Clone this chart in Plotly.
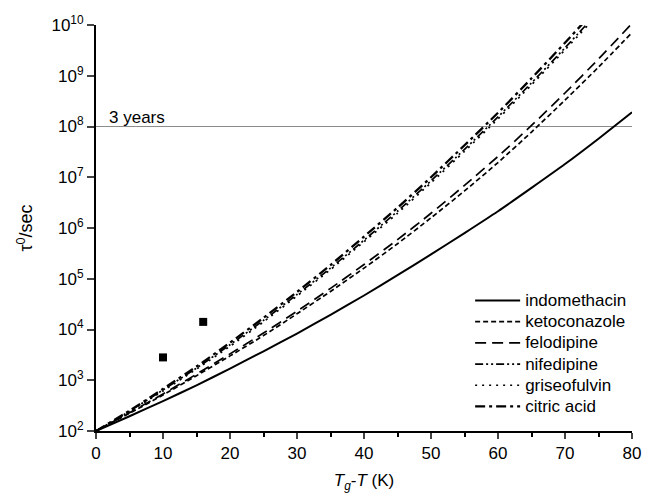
import plotly.graph_objects as go

# Tg - T (K)
dT = [0, 5, 10, 15, 20, 25, 30, 35, 40, 45, 50, 55, 60, 65, 70, 75, 80]
dT_steep = [0, 5, 10, 15, 20, 25, 30, 35, 40, 45, 50, 55, 60, 65, 70, 75]

# log10(tau0 / s)
indomethacin = [2.00, 2.29, 2.59, 2.90, 3.23, 3.57, 3.92, 4.29, 4.67, 5.07, 5.48, 5.90, 6.33, 6.79, 7.26, 7.76, 8.28]
ketoconazole = [2.00, 2.35, 2.71, 3.09, 3.48, 3.88, 4.31, 4.75, 5.21, 5.69, 6.20, 6.73, 7.29, 7.89, 8.52, 9.17, 9.85]
felodipine = [2.00, 2.36, 2.73, 3.12, 3.52, 3.93, 4.36, 4.81, 5.28, 5.77, 6.29, 6.84, 7.41, 8.02, 8.66, 9.33, 10.03]
nifedipine = [2.00, 2.39, 2.81, 3.24, 3.70, 4.18, 4.69, 5.21, 5.76, 6.33, 6.93, 7.55, 8.19, 8.86, 9.55, 10.27]
griseofulvin = [2.00, 2.38, 2.79, 3.22, 3.67, 4.15, 4.66, 5.18, 5.73, 6.29, 6.89, 7.51, 8.15, 8.82, 9.51, 10.22]
citric_acid = [2.00, 2.40, 2.83, 3.27, 3.74, 4.23, 4.74, 5.27, 5.83, 6.40, 7.00, 7.63, 8.27, 8.95, 9.65, 10.37]

# experimental points
pts_dT = [10, 16]
pts_log_tau = [3.45, 4.15]

three_years_s = 1e8
y_tick_exp = [2, 3, 4, 5, 6, 7, 8, 9, 10]

FONT = "Liberation Sans, Arial, sans-serif"
FS = 17

series = [
    ("indomethacin", dT, indomethacin, "solid", 2.0),
    ("ketoconazole", dT, ketoconazole, "5px,3px", 1.7),
    ("felodipine", dT, felodipine, "11px,6px", 1.7),
    ("nifedipine", dT_steep, nifedipine, "8px,3px,2px,3px,2px,3px", 1.7),
    ("griseofulvin", dT_steep, griseofulvin, "2px,5px", 1.7),
    ("citric acid", dT_steep, citric_acid, "10px,4px,3px,4px", 2.3),
]

fig = go.Figure()
for name, xs, ys, dash, w in series:
    fig.add_trace(go.Scatter(
        x=xs, y=[10 ** v for v in ys],
        name=f'<span style="font-size:{FS}px">{name}</span>', mode="lines",
        line=dict(color="black", width=w, dash=dash, shape="spline", smoothing=0.6),
    ))

fig.add_trace(go.Scatter(
    x=pts_dT, y=[10 ** v for v in pts_log_tau], mode="markers", showlegend=False,
    marker=dict(symbol="square", size=8, color="black"),
))

fig.add_shape(type="line", xref="x", yref="y", x0=0, x1=80, y0=three_years_s, y1=three_years_s,
              line=dict(color="#8c8c8c", width=1.2), layer="below")
fig.add_annotation(x=1.6, y=8, xref="x", yref="y", text="3 years", showarrow=False,
                   xanchor="left", yanchor="bottom", yshift=-2,
                   font=dict(family=FONT, size=FS, color="black"))

fig.update_layout(
    width=653, height=500,
    margin=dict(l=96, r=12, t=25, b=69),
    paper_bgcolor="white", plot_bgcolor="white",
    font=dict(family=FONT, size=FS, color="black"),
    showlegend=True,
    legend=dict(x=0.698, y=0.36, xanchor="left", yanchor="top",
                bgcolor="rgba(0,0,0,0)", font=dict(family=FONT, size=14, color="black"),
                itemwidth=45, tracegroupgap=0),
    xaxis=dict(range=[0, 80], dtick=10, tick0=0, ticks="outside", ticklen=6, tickwidth=2,
               showline=True, linewidth=2, linecolor="black", showgrid=False, zeroline=False,
               minor=dict(dtick=5, ticks="outside", ticklen=4, tickwidth=2, tickcolor="black"),
               tickfont=dict(family=FONT, size=FS, color="black"),
               title=dict(text="<i>T</i><sub><i>g</i></sub>-<i>T</i> (K)", standoff=12,
                          font=dict(family=FONT, size=FS, color="black"))),
    yaxis=dict(type="log", range=[2, 10],
               tickvals=[10 ** e for e in y_tick_exp],
               ticktext=[f"10<sup>{e}</sup>" for e in y_tick_exp],
               ticks="outside", ticklen=7, tickwidth=2,
               showline=True, linewidth=2, linecolor="black", showgrid=False, zeroline=False,
               tickfont=dict(family=FONT, size=FS, color="black"),
               title=dict(text="τ<sup>0</sup>/sec", standoff=14,
                          font=dict(family=FONT, size=18, color="black"))),
)

fig.write_html("out.html")
